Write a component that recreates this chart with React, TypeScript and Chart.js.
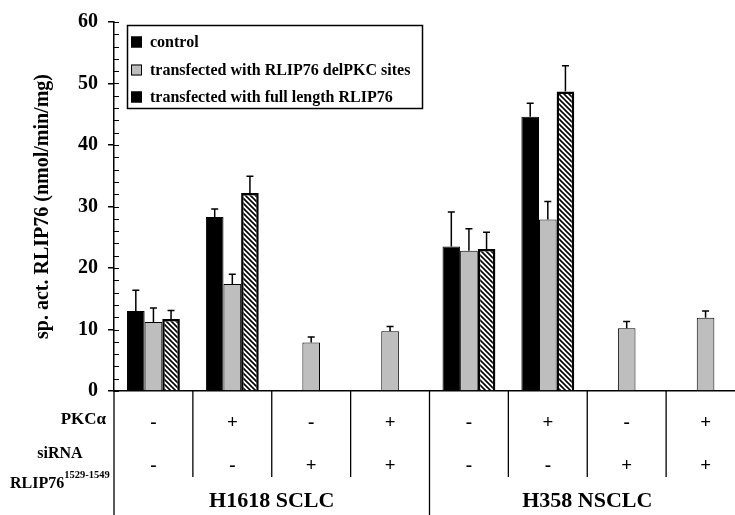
import React, { useEffect, useRef } from 'react';
import { Chart, registerables } from 'chart.js';

Chart.register(...registerables);

// ---- data ----
const groups = ['g1', 'g2', 'g3', 'g4', 'g5', 'g6', 'g7', 'g8'];
const pkcRow = ['-', '+', '-', '+', '-', '+', '-', '+'];
const sirnaRow = ['-', '-', '+', '+', '-', '-', '+', '+'];
const cellLines = ['H1618 SCLC', 'H358 NSCLC'];

const seriesNames = [
  'control',
  'transfected with RLIP76 delPKC sites',
  'transfected with full length RLIP76',
];
const controlValues = [13.0, 28.3, null, null, 23.5, 44.6, null, null];
const controlErr = [3.4, 1.3, null, null, 5.6, 2.2, null, null];
const delPkcValues = [11.2, 17.4, 7.9, 9.7, 22.8, 27.9, 10.2, 11.9];
const delPkcErr = [2.3, 1.6, 0.9, 0.8, 3.6, 2.9, 1.1, 1.1];
const fullValues = [11.7, 32.2, null, null, 23.1, 48.7, null, null];
const fullErr = [1.4, 2.7, null, null, 2.7, 4.2, null, null];
const errSets = [controlErr, delPkcErr, fullErr];

const yTitle = 'sp. act. RLIP76 (nmol/min/mg)';
const FONT = "'Liberation Serif', 'Times New Roman', serif";
const GRAY = '#bebebe';

function makeHatch(): CanvasPattern | string {
  const c = document.createElement('canvas');
  const s = 5;
  c.width = s;
  c.height = s;
  const g = c.getContext('2d');
  if (!g) return '#888';
  g.fillStyle = '#fff';
  g.fillRect(0, 0, s, s);
  g.strokeStyle = '#000';
  g.lineWidth = 1.6;
  g.beginPath();
  g.moveTo(-1, -1);
  g.lineTo(s + 1, s + 1);
  g.moveTo(-1, s - 1);
  g.lineTo(1, s + 1);
  g.moveTo(s - 1, -1);
  g.lineTo(s + 1, 1);
  g.stroke();
  return g.createPattern(c, 'repeat') || '#888';
}

const errorBarPlugin = {
  id: 'errorBars',
  afterDatasetsDraw(chart: any) {
    const ctx = chart.ctx;
    const ys = chart.scales.y;
    chart.data.datasets.forEach((ds: any, di: number) => {
      const meta = chart.getDatasetMeta(di);
      const errs = errSets[di];
      meta.data.forEach((bar: any, i: number) => {
        const v = ds.data[i];
        const e = errs[i];
        if (v == null || e == null) return;
        const x = bar.x;
        const top = bar.y;
        const ey = ys.getPixelForValue(v + e);
        ctx.save();
        ctx.strokeStyle = '#000';
        ctx.lineWidth = 1.5;
        ctx.beginPath();
        ctx.moveTo(x, top);
        ctx.lineTo(x, ey);
        ctx.moveTo(x - 3.5, ey);
        ctx.lineTo(x + 3.5, ey);
        ctx.stroke();
        ctx.restore();
      });
    });
  },
};

const decorPlugin = {
  id: 'decor',
  afterDraw(chart: any) {
    const ctx = chart.ctx;
    const xs = chart.scales.x;
    const ys = chart.scales.y;
    const area = chart.chartArea;
    const n = groups.length;
    const cw = (area.right - area.left) / n;
    ctx.save();

    // minor ticks (inside)
    ctx.strokeStyle = '#000';
    ctx.lineWidth = 1;
    for (let v = 0; v <= 60; v += 2) {
      const py = Math.round(ys.getPixelForValue(v)) + 0.5;
      ctx.beginPath();
      ctx.moveTo(area.left, py);
      ctx.lineTo(area.left + 5, py);
      ctx.stroke();
    }

    // table vertical lines
    ctx.lineWidth = 1.3;
    for (let i = 0; i <= n; i++) {
      const bx = area.left + i * cw;
      const full = i === 0 || i === n / 2 || i === n;
      ctx.beginPath();
      ctx.moveTo(bx, area.bottom);
      ctx.lineTo(bx, full ? chart.height : 477);
      ctx.stroke();
    }

    // signs
    ctx.fillStyle = '#000';
    ctx.textAlign = 'center';
    ctx.textBaseline = 'middle';
    ctx.font = `bold 19px ${FONT}`;
    for (let i = 0; i < n; i++) {
      const cx = xs.getPixelForValue(i);
      ctx.fillText(pkcRow[i], cx, 423);
      ctx.fillText(sirnaRow[i], cx, 466);
    }

    // row labels
    ctx.font = `bold 17px ${FONT}`;
    ctx.textAlign = 'right';
    ctx.fillText('PKC\u03B1', 106, 420);
    ctx.textAlign = 'center';
    ctx.font = `bold 16px ${FONT}`;
    ctx.fillText('siRNA', 60, 454);
    ctx.textAlign = 'left';
    ctx.textBaseline = 'alphabetic';
    ctx.font = `bold 16px ${FONT}`;
    const base = 'RLIP76';
    ctx.fillText(base, 10, 488);
    const bw = ctx.measureText(base).width;
    ctx.font = `bold 10.5px ${FONT}`;
    ctx.fillText('1529-1549', 10 + bw, 478);

    // cell line labels
    ctx.textAlign = 'center';
    ctx.textBaseline = 'middle';
    ctx.font = `bold 22px ${FONT}`;
    const half = n / 2;
    ctx.fillText(cellLines[0], area.left + (half * cw) / 2, 501);
    ctx.fillText(cellLines[1], area.left + half * cw + (half * cw) / 2, 501);

    // legend
    ctx.lineWidth = 1.5;
    ctx.strokeStyle = '#000';
    ctx.strokeRect(127.5, 25.5, 295, 83);
    const swatches = ['#000', GRAY, '#000'];
    const rowsY = [42, 70, 97];
    ctx.font = `bold 16px ${FONT}`;
    ctx.textAlign = 'left';
    ctx.textBaseline = 'middle';
    for (let k = 0; k < 3; k++) {
      ctx.fillStyle = swatches[k];
      ctx.fillRect(131, rowsY[k] - 5.5, 11, 11);
      ctx.lineWidth = 1;
      ctx.strokeRect(131.5, rowsY[k] - 5, 10, 10);
      ctx.fillStyle = '#000';
      ctx.fillText(seriesNames[k], 150, rowsY[k] + 1);
    }
    ctx.restore();
  },
};

export default function App() {
  const ref = useRef<HTMLCanvasElement | null>(null);
  useEffect(() => {
    if (!ref.current) return;
    const hatch = makeHatch();
    const chart = new Chart(ref.current, {
      type: 'bar',
      data: {
        labels: groups,
        datasets: [
          {
            label: seriesNames[0],
            data: controlValues as any,
            backgroundColor: '#000',
            borderColor: '#000',
            borderWidth: 1,
          },
          {
            label: seriesNames[1],
            data: delPkcValues as any,
            backgroundColor: GRAY,
            borderColor: '#000',
            borderWidth: 1,
          },
          {
            label: seriesNames[2],
            data: fullValues as any,
            backgroundColor: hatch as any,
            borderColor: '#000',
            borderWidth: 2.5,
          },
        ],
      },
      options: {
        responsive: false,
        animation: false,
        devicePixelRatio: 1,
        layout: { padding: { left: 0, top: 21, right: 15, bottom: 0 } },
        datasets: {
          bar: { categoryPercentage: 0.67, barPercentage: 1 },
        },
        plugins: {
          legend: { display: false },
          tooltip: { enabled: false },
        },
        scales: {
          x: {
            grid: { display: false },
            ticks: { display: false },
            border: { display: true, color: '#000', width: 1.5 },
            afterFit: (s: any) => {
              s.height = 124;
            },
          },
          y: {
            min: 0,
            max: 60,
            ticks: {
              stepSize: 10,
              color: '#000',
              padding: 10,
              font: { family: FONT, size: 20, weight: 'bold' },
            },
            grid: {
              display: true,
              drawOnChartArea: false,
              drawTicks: true,
              tickLength: 6,
              color: '#000',
              lineWidth: 1.5,
            },
            border: { display: true, color: '#000', width: 1.5 },
            title: {
              display: true,
              text: yTitle,
              color: '#000',
              font: { family: FONT, size: 20, weight: 'bold' },
              padding: { top: 31, bottom: 0 },
            },
            afterFit: (s: any) => {
              s.width = 114;
            },
          },
        },
      },
      plugins: [errorBarPlugin, decorPlugin],
    });
    return () => chart.destroy();
  }, []);

  return (
    <div
      style={{
        position: 'fixed',
        left: 0,
        top: 0,
        width: 735,
        height: 515,
        overflow: 'hidden',
        background: '#fff',
      }}
    >
      <canvas ref={ref} width={760} height={515} style={{ display: 'block' }} />
    </div>
  );
}
